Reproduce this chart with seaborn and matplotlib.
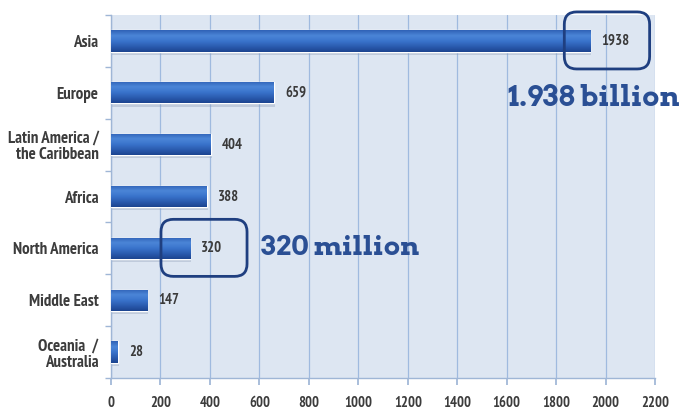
import numpy as np
import pandas as pd
import matplotlib
matplotlib.use("Agg")
import matplotlib.pyplot as plt
import seaborn as sns
from matplotlib.patches import FancyBboxPatch
from matplotlib.colors import LinearSegmentedColormap

regions = ["Asia", "Europe", "Latin America /\nthe Caribbean", "Africa",
           "North America", "Middle East", "Oceania  /\nAustralia"]
values = [1938, 659, 404, 388, 320, 147, 28]
xticks = [0, 200, 400, 600, 800, 1000, 1200, 1400, 1600, 1800, 2000, 2200]
callouts = {"Asia": "1.938 billion", "North America": "320 million"}

sns.set_theme(style="white")
narrow = ["PT Sans Narrow", "Roboto Condensed", "DejaVu Sans"]
slab = ["Arvo", "Roboto Slab", "DejaVu Serif"]
plt.rcParams['font.family'] = narrow

df = pd.DataFrame({"region": regions, "value": values})

fig = plt.figure(figsize=(6.82, 4.12), dpi=100)
ax = fig.add_axes([0.1628, 0.0825, 0.7977, 0.881])
ax.set_facecolor("#dde6f2")

sns.barplot(data=df, x="value", y="region", orient="h", color="#2f63b8",
            width=0.41, ax=ax, zorder=3)

ax.set_xlim(0, 2200)
ax.set_ylim(len(regions) - 0.5, -0.5)
ax.set_xticks(xticks)
ax.set_xticklabels([str(t) for t in xticks], fontsize=10.5, fontweight="bold", color="#3c3c3c")
ax.set_yticklabels(regions, fontsize=12.2, fontweight="bold", color="#3c3c3c",
                   linespacing=1.05)
ax.set_xlabel("")
ax.set_ylabel("")

ax.xaxis.grid(True, color="#9fbadf", lw=0.9, zorder=0)
ax.set_axisbelow(True)
for s in ["top", "right"]:
    ax.spines[s].set_visible(False)
for s in ["left", "bottom"]:
    ax.spines[s].set_color("#9fb6d6")
    ax.spines[s].set_linewidth(1.0)

ax.tick_params(axis="x", bottom=True, length=5, color="#9fb6d6", pad=8)
ax.tick_params(axis="y", which="major", left=False, length=0, pad=9)
ax.set_yticks(np.arange(-0.5, len(regions) + 0.5, 1), minor=True)
ax.tick_params(axis="y", which="minor", left=True, length=4, color="#9fb6d6")

# gradient fill for bars
cmap = LinearSegmentedColormap.from_list(
    "bar", ["#1c4490", "#2b5cb0", "#3a74cc", "#4c86d8", "#2f62b6"])
grad = np.linspace(0, 1, 64).reshape(-1, 1)
for p in list(ax.patches):
    x0, y0 = p.get_x(), p.get_y()
    w, h = p.get_width(), p.get_height()
    ax.add_patch(plt.Rectangle((x0 + 4, y0 + 0.06), w, h, color="#8a9bb5",
                               alpha=0.35, lw=0, zorder=2))
    im = ax.imshow(grad, extent=(x0, x0 + w, y0, y0 + h), cmap=cmap,
                   aspect="auto", zorder=3.5, interpolation="bicubic")
    im.set_clip_path(p)
ax.set_xlim(0, 2200)
ax.set_ylim(len(regions) - 0.5, -0.5)

# value labels
for i, v in enumerate(values):
    ax.text(v + 45, i, str(v), va="center", ha="left", fontsize=10.5,
            fontweight="bold", color="#3a3a3a", zorder=5)

# callout boxes
box_off = {"Asia": (-105, 240), "North America": (-118, 230)}
for name in callouts:
    i = regions.index(name)
    v = values[i]
    lo, hi = box_off[name]
    box = FancyBboxPatch((v + lo, i - 0.56), hi - lo, 1.1,
                         boxstyle="round,pad=0,rounding_size=50",
                         mutation_aspect=0.0048, fill=False,
                         ec="#1f3f80", lw=2.0, zorder=6, clip_on=False)
    ax.add_patch(box)

ax.text(1605, 1.1, callouts["Asia"], fontsize=20.5, fontweight="bold",
        family=slab, color="#2a4f94", ha="left", va="center", zorder=6, clip_on=False)
ax.text(605, 4.0, callouts["North America"], fontsize=19.5, fontweight="bold",
        family=slab, color="#2a4f94", ha="left", va="center", zorder=6)

fig.savefig("out.png", dpi=100)
